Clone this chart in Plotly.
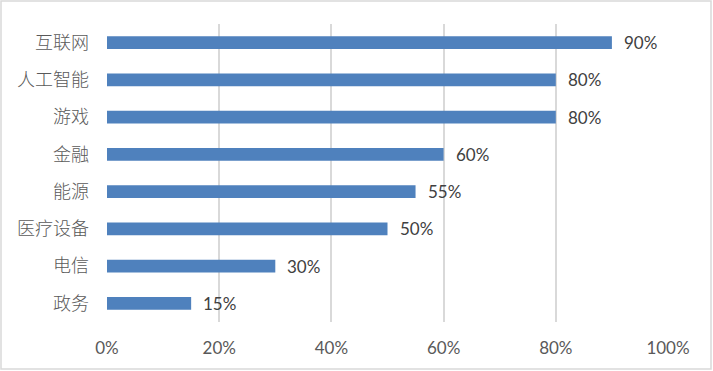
import plotly.graph_objects as go

categories = ["互联网", "人工智能", "游戏", "金融", "能源", "医疗设备", "电信", "政务"]
values = [90, 80, 80, 60, 55, 50, 30, 15]
x_ticks = [0, 20, 40, 60, 80, 100]
x_tick_labels = [f"{v}%" for v in x_ticks]
value_labels = [f"{v}%" for v in values]

W, H = 713, 371
ml, mr, mt, mb = 107, 45, 24, 49
pw, ph = W - ml - mr, H - mt - mb

fig = go.Figure()
fig.add_trace(go.Bar(
    y=categories, x=values, orientation="h",
    marker=dict(color="#4F81BD", line=dict(width=0)),
    hoverinfo="skip",
))

for c, v, t in zip(categories, values, value_labels):
    fig.add_annotation(x=v, y=c, text=t, showarrow=False, xanchor="left",
                       xshift=10, font=dict(family="Lato, Noto Sans CJK SC", size=17, color="#404040"))

fig.add_shape(type="rect", xref="paper", yref="paper",
              x0=(1 - ml) / pw, x1=(W - 2 - ml) / pw,
              y0=(H - mb - (H - 2)) / ph, y1=(H - mb - 1) / ph,
              line=dict(color="#D9D9D9", width=1.5), fillcolor="rgba(0,0,0,0)", layer="below")

fig.update_layout(
    width=W, height=H,
    margin=dict(l=ml, r=mr, t=mt, b=mb, autoexpand=False),
    paper_bgcolor="white", plot_bgcolor="white",
    bargap=0.66, showlegend=False,
    xaxis=dict(range=[0, 100], tickvals=x_ticks, ticktext=x_tick_labels,
               showgrid=True, gridcolor="#D9D9D9", gridwidth=1.5,
               zeroline=False, showline=False, ticks="",
               ticklabelstandoff=14,
               tickfont=dict(family="Lato", size=17, color="#595959")),
    yaxis=dict(categoryorder="array", categoryarray=categories[::-1],
               showgrid=False, zeroline=False, showline=False, ticks="",
               ticklabelstandoff=17,
               tickfont=dict(family="Noto Sans CJK SC", size=18, weight=300, color="#595959")),
)

fig.write_html("out.html", config={"displayModeBar": False},
               post_script="document.body.style.margin='0';document.body.style.overflow='hidden';")
